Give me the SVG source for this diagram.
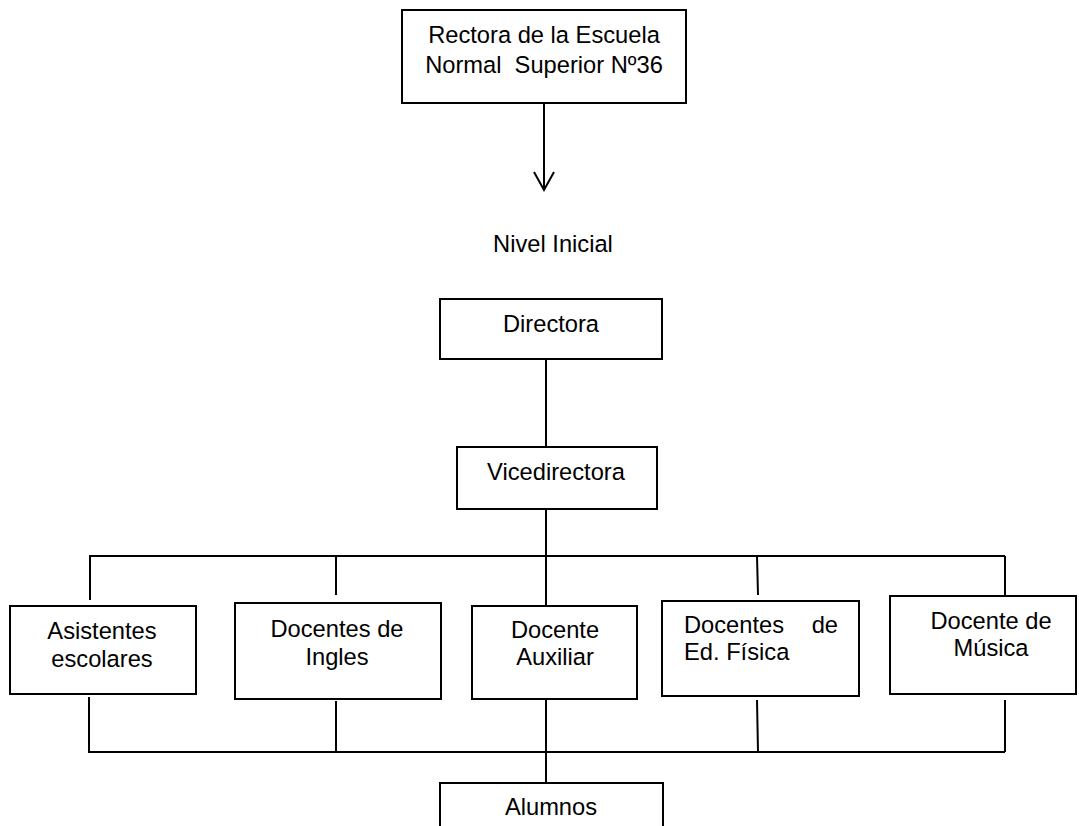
<svg xmlns="http://www.w3.org/2000/svg" width="1079" height="826" viewBox="0 0 1079 826">
<style>
.box{fill:#fff;stroke:#000;stroke-width:2}
.t{font-family:"Liberation Sans",Arial,sans-serif;font-size:23.7px;fill:#000}
.m{text-anchor:middle}
.c line,.c polyline{stroke:#000;stroke-width:2;fill:none}
</style>
<rect width="1079" height="826" fill="#fff"/>
<g class="c" id="connectors">
<line x1="544" y1="103" x2="544" y2="190"/>
<polyline points="534,172 544,190 554,172"/>
<line x1="546" y1="359" x2="546" y2="447"/>
<line x1="546" y1="509" x2="546" y2="606"/>
<line x1="89" y1="556" x2="1005" y2="556"/>
<line x1="90" y1="556" x2="90" y2="600"/>
<line x1="336" y1="556" x2="336" y2="595"/>
<line x1="757" y1="556" x2="758" y2="595"/>
<line x1="1005" y1="556" x2="1005" y2="595"/>
<line x1="89" y1="697" x2="89" y2="753"/>
<line x1="336" y1="701" x2="336" y2="752"/>
<line x1="546" y1="699" x2="546" y2="783"/>
<line x1="757" y1="700" x2="758" y2="752"/>
<line x1="1005" y1="700" x2="1005" y2="752"/>
<line x1="89" y1="752" x2="1005" y2="752"/>
</g>
<g id="rectora">
<rect class="box" x="402" y="10" width="284" height="93"/>
<text class="t m" x="544" y="43">Rectora de la Escuela</text>
<text class="t m" x="544" y="73" xml:space="preserve">Normal  Superior Nº36</text>
</g>
<g id="nivel">
<text class="t m" x="553" y="252">Nivel Inicial</text>
</g>
<g id="directora">
<rect class="box" x="440" y="299" width="222" height="60"/>
<text class="t m" x="551" y="332">Directora</text>
</g>
<g id="vicedirectora">
<rect class="box" x="457" y="447" width="200" height="62"/>
<text class="t m" x="556" y="480">Vicedirectora</text>
</g>
<g id="asistentes">
<rect class="box" x="10" y="606" width="186" height="88"/>
<text class="t m" x="102" y="639">Asistentes</text>
<text class="t m" x="102" y="667">escolares</text>
</g>
<g id="ingles">
<rect class="box" x="235" y="603" width="206" height="96"/>
<text class="t m" x="337" y="637">Docentes de</text>
<text class="t m" x="337" y="665">Ingles</text>
</g>
<g id="auxiliar">
<rect class="box" x="472" y="606" width="165" height="93"/>
<text class="t m" x="555" y="638">Docente</text>
<text class="t m" x="555" y="665">Auxiliar</text>
</g>
<g id="fisica">
<rect class="box" x="662" y="601" width="197" height="95"/>
<text class="t" x="684" y="633">Docentes</text>
<text class="t" x="838" y="633" text-anchor="end">de</text>
<text class="t" x="684" y="660">Ed. Física</text>
</g>
<g id="musica">
<rect class="box" x="890" y="596" width="186" height="98"/>
<text class="t m" x="991" y="629">Docente de</text>
<text class="t m" x="991" y="656">Música</text>
</g>
<g id="alumnos">
<rect class="box" x="440" y="783" width="223" height="60"/>
<text class="t m" x="551" y="815">Alumnos</text>
</g>
</svg>
